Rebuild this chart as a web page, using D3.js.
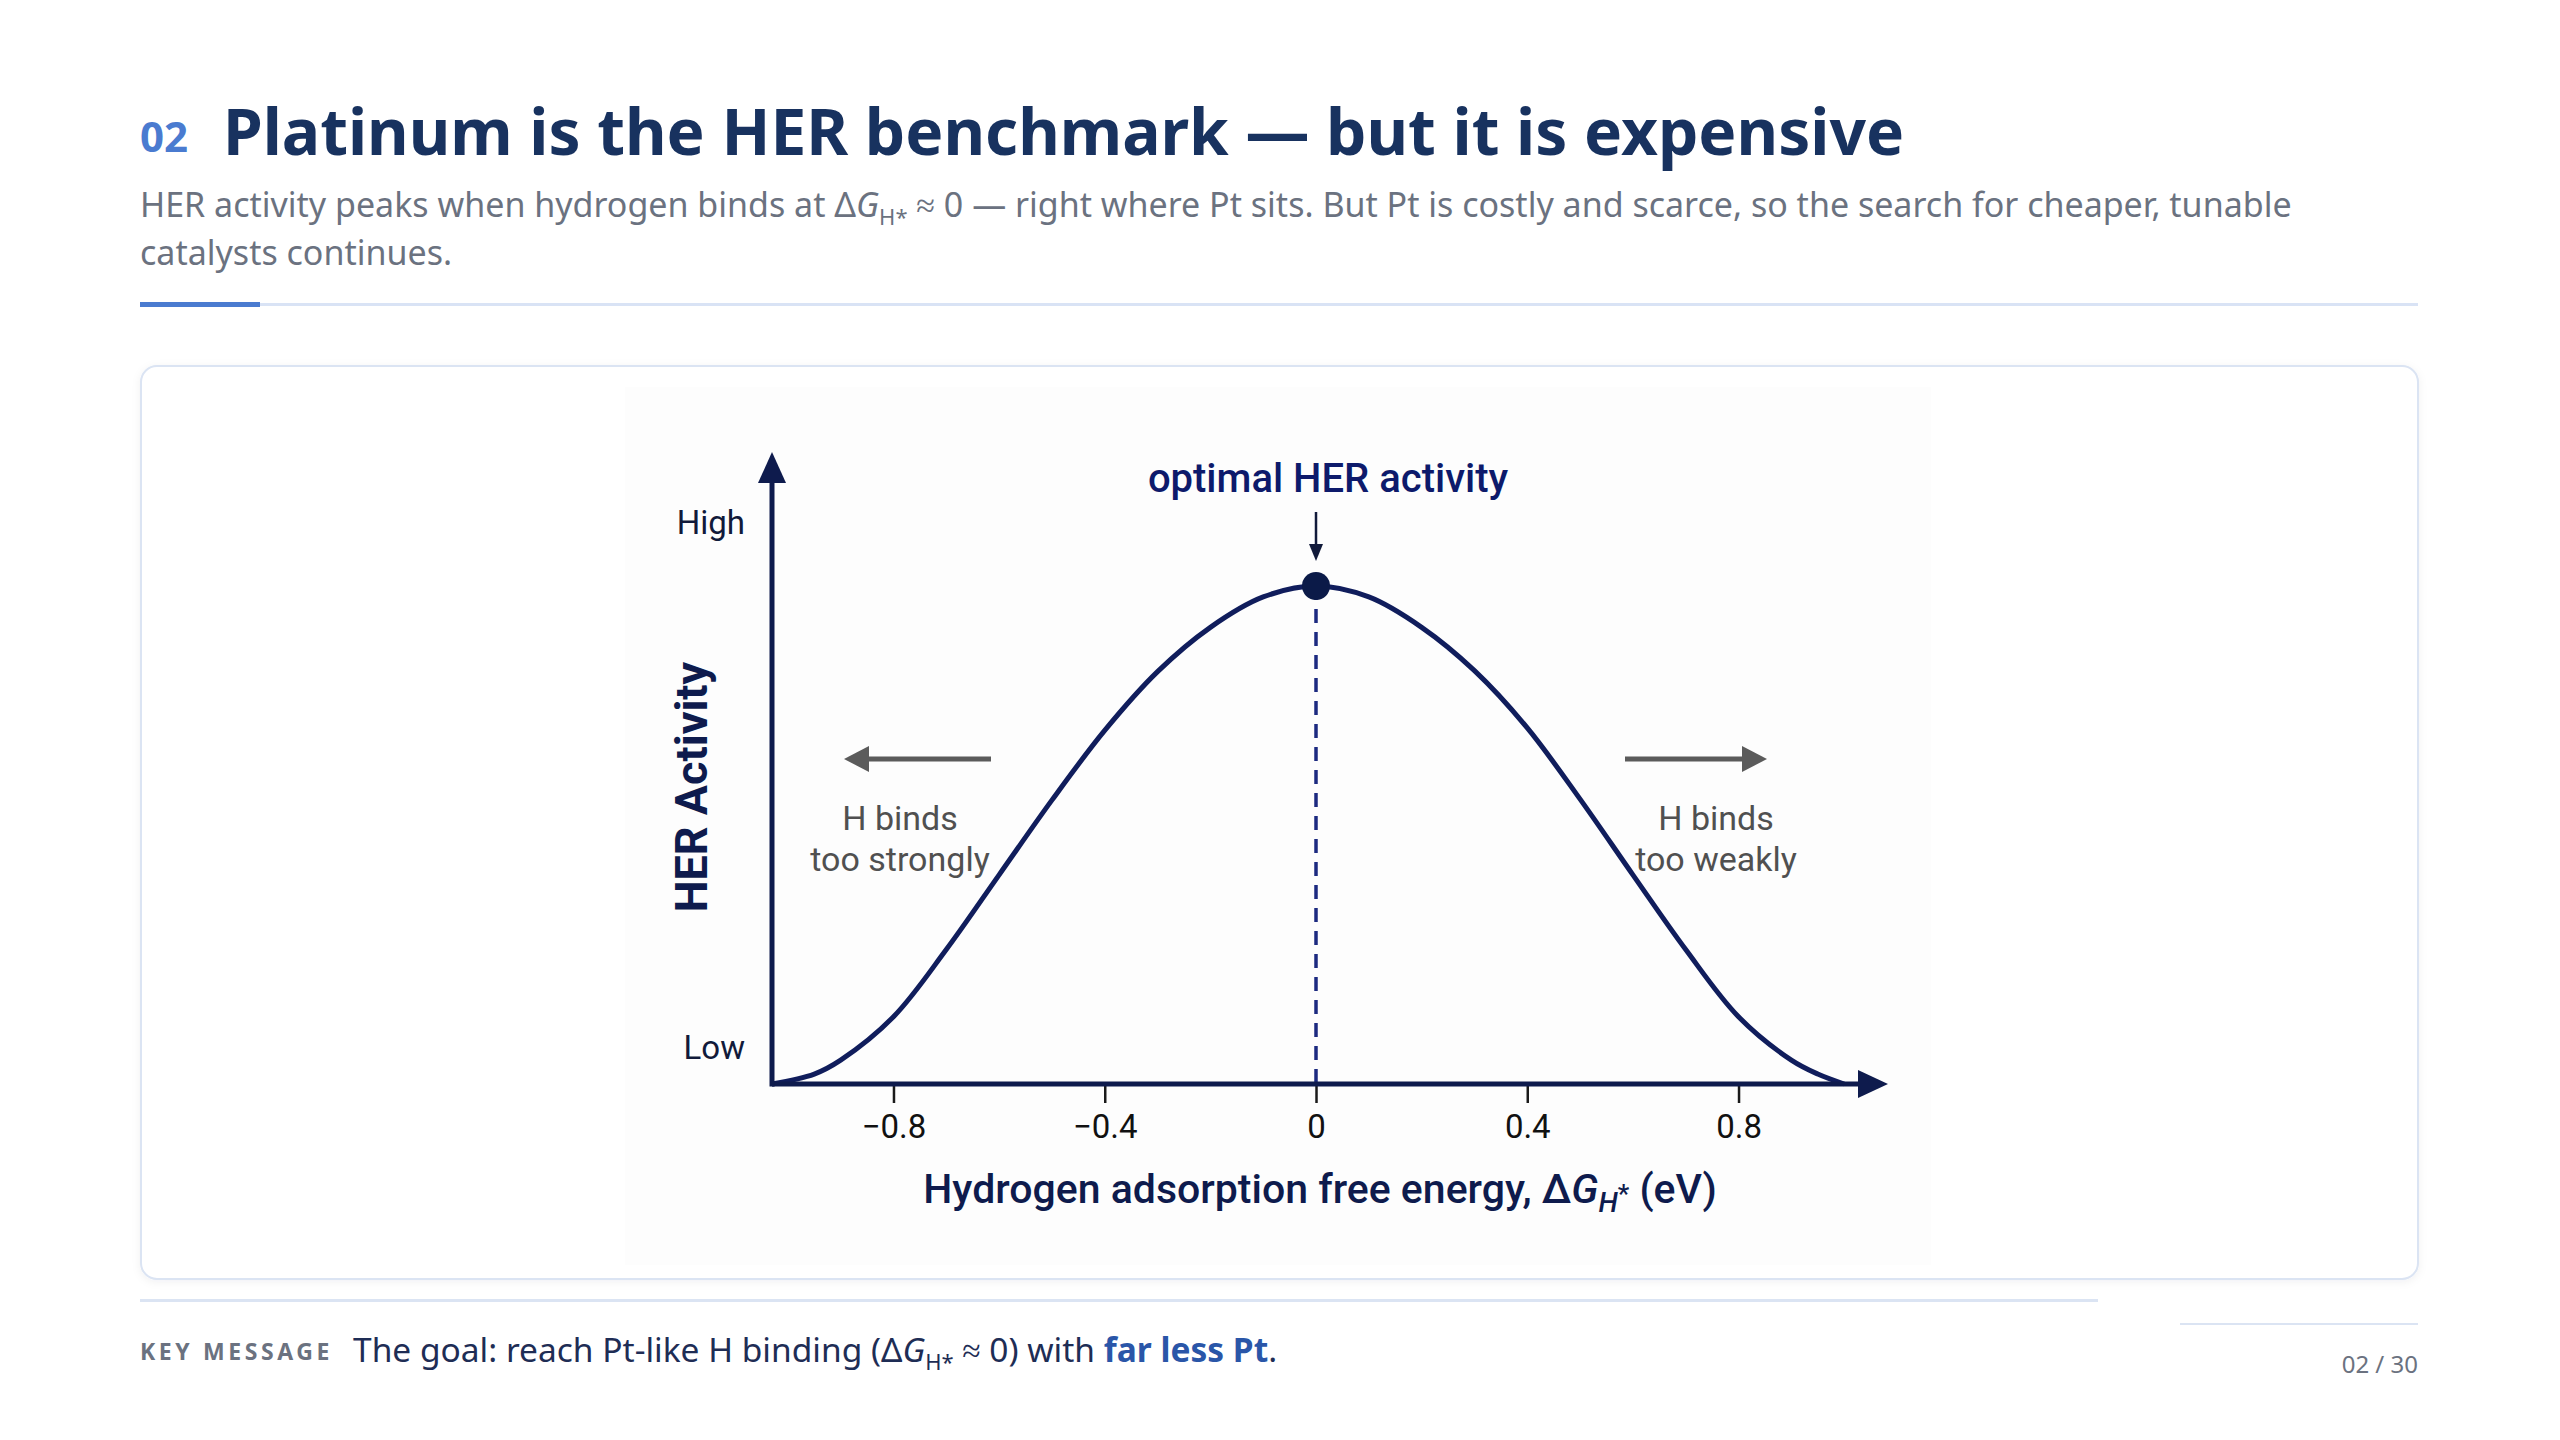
<!DOCTYPE html>
<html lang="en">
<head>
<meta charset="UTF-8">
<title>Platinum is the HER benchmark</title>
<script src="https://d3js.org/d3.v7.min.js"></script>
<style>
  html, body { margin: 0; padding: 0; background: #ffffff; }
  svg { display: block; }
</style>
</head>
<body>
<div id="chart"></div>
<script>
// volcano curve: binding energy (eV) vs relative activity
const energy   = [-1.03, -0.95, -0.9, -0.8, -0.7, -0.6, -0.5, -0.4, -0.3, -0.2, -0.1, 0,
                  0.1, 0.2, 0.3, 0.4, 0.5, 0.6, 0.7, 0.8, 0.9, 0.95, 1.0];
const activity = [0, 0.02, 0.048, 0.135, 0.27, 0.42, 0.57, 0.71, 0.828, 0.917, 0.978, 1,
                  0.978, 0.917, 0.83, 0.715, 0.572, 0.42, 0.27, 0.135, 0.048, 0.02, 0];
const xTicks = [-0.8, -0.4, 0, 0.4, 0.8];
const yLevelValues = [0.074, 1.128];
const yLevelLabels = ["Low", "High"];
const peakEnergy = 0;
const peakActivity = 1;

const width = 2560, height = 1440;
const navy = "#0e1b4d";

const svg = d3.select("#chart").append("svg")
    .attr("width", width)
    .attr("height", height);

const defs = svg.append("defs");
const shadow = defs.append("filter").attr("id", "shadow")
    .attr("x", "-5%").attr("y", "-5%").attr("width", "110%").attr("height", "110%");
shadow.append("feDropShadow").attr("dx", 0).attr("dy", 2).attr("stdDeviation", 4)
    .attr("flood-color", "#1a2a55").attr("flood-opacity", 0.06);

// ---- header ----
svg.append("text")
    .attr("x", 140).attr("y", 152)
    .attr("font-family", "Noto Sans").attr("font-weight", 700)
    .attr("font-size", 42).attr("fill", "#4a7bd0")
    .text("02");

svg.append("text")
    .attr("x", 223).attr("y", 155)
    .attr("font-family", "Noto Sans").attr("font-weight", 700)
    .attr("font-size", 64).attr("fill", "#18325f")
    .text("Platinum is the HER benchmark \u2014 but it is expensive");

const sub = svg.append("text")
    .attr("font-family", "Noto Sans").attr("font-size", 34)
    .attr("fill", "#6b7280");
const l1 = sub.append("tspan").attr("x", 140).attr("y", 217);
l1.append("tspan").text("HER activity peaks when hydrogen binds at \u0394");
l1.append("tspan").attr("font-style", "italic").text("G");
l1.append("tspan").attr("font-size", 22).attr("dy", 8).text("H*");
l1.append("tspan").attr("dy", -8).text(" \u2248 0 \u2014 right where Pt sits. But Pt is costly and scarce, so the search for cheaper, tunable");
sub.append("tspan").attr("x", 140).attr("y", 265).text("catalysts continues.");

svg.append("rect").attr("x", 140).attr("y", 303).attr("width", 2278).attr("height", 3).attr("fill", "#d9e3f5");
svg.append("rect").attr("x", 140).attr("y", 302).attr("width", 120).attr("height", 5).attr("fill", "#4a7bd0");

// ---- card ----
svg.append("rect")
    .attr("x", 141).attr("y", 366).attr("width", 2277).attr("height", 913)
    .attr("rx", 16).attr("fill", "#ffffff")
    .attr("stroke", "#dbe4f3").attr("stroke-width", 2)
    .attr("filter", "url(#shadow)");

// faint backdrop of the figure
svg.append("rect")
    .attr("x", 625).attr("y", 387).attr("width", 1306).attr("height", 878)
    .attr("fill", "#fdfdfd");

// ---- scales ----
const xScale = d3.scaleLinear().domain([-1.03, 1.083]).range([772, 1888]);
const yScale = d3.scaleLinear().domain([0, 1]).range([1084, 586]);
const x0 = xScale(-1.03), y0 = yScale(0);
const xEnd = xScale(1.083);
const yTop = 452;

// dashed guide at the optimum
svg.append("line")
    .attr("x1", xScale(peakEnergy)).attr("x2", xScale(peakEnergy))
    .attr("y1", yScale(peakActivity)).attr("y2", y0)
    .attr("stroke", "#1c2a80").attr("stroke-width", 3.5)
    .attr("stroke-dasharray", "14 9");

// x ticks
const xAxis = d3.axisBottom(xScale)
    .tickValues(xTicks)
    .tickSize(19)
    .tickPadding(12)
    .tickFormat(d => d === 0 ? "0" : d3.format(".1f")(d));
const gx = svg.append("g")
    .attr("transform", `translate(0, ${y0})`)
    .call(xAxis);
gx.select(".domain").remove();
gx.selectAll(".tick line").attr("stroke", "#1a1a1a").attr("stroke-width", 2.5);
gx.selectAll(".tick text")
    .attr("font-family", "Roboto").attr("font-size", 33).attr("fill", "#111111");

// curve
const pts = energy.map((e, i) => [e, activity[i]]);
const line = d3.line()
    .x(d => xScale(d[0]))
    .y(d => yScale(d[1]))
    .curve(d3.curveCatmullRom.alpha(0.5));
svg.append("path")
    .datum(pts)
    .attr("d", line)
    .attr("fill", "none")
    .attr("stroke", "#101d5c")
    .attr("stroke-width", 5)
    .attr("stroke-linejoin", "round");

// axes with arrowheads
svg.append("line")
    .attr("x1", x0).attr("y1", y0).attr("x2", xEnd - 26).attr("y2", y0)
    .attr("stroke", navy).attr("stroke-width", 5);
svg.append("path")
    .attr("d", `M${xEnd},${y0} L${xEnd - 30},${y0 - 14} L${xEnd - 30},${y0 + 14} Z`)
    .attr("fill", navy);
svg.append("line")
    .attr("x1", x0).attr("y1", y0 + 2.5).attr("x2", x0).attr("y2", yTop + 26)
    .attr("stroke", navy).attr("stroke-width", 5);
svg.append("path")
    .attr("d", `M${x0},${yTop} L${x0 - 14},${yTop + 31} L${x0 + 14},${yTop + 31} Z`)
    .attr("fill", navy);

// peak marker
svg.append("circle")
    .attr("cx", xScale(peakEnergy)).attr("cy", yScale(peakActivity))
    .attr("r", 14).attr("fill", "#0b1a48");

// y levels
svg.selectAll("text.level")
    .data(yLevelValues)
    .enter().append("text")
    .attr("class", "level")
    .attr("x", 745)
    .attr("y", d => yScale(d))
    .attr("dy", "0.35em")
    .attr("text-anchor", "end")
    .attr("font-family", "Roboto").attr("font-size", 33)
    .attr("fill", "#111a3a")
    .text((d, i) => yLevelLabels[i]);

// y title
svg.append("text")
    .attr("transform", `translate(707, 787) rotate(-90)`)
    .attr("text-anchor", "middle")
    .attr("font-family", "Roboto").attr("font-weight", 700)
    .attr("font-size", 45).attr("fill", "#0e1b4d")
    .text("HER Activity");

// optimum annotation
const px = xScale(peakEnergy);
svg.append("text")
    .attr("x", px + 12).attr("y", 492)
    .attr("text-anchor", "middle")
    .attr("font-family", "Roboto").attr("font-weight", 500)
    .attr("font-size", 40).attr("fill", "#0d1a6b")
    .text("optimal HER activity");
svg.append("line")
    .attr("x1", px).attr("x2", px).attr("y1", 512).attr("y2", 548)
    .attr("stroke", "#111a3a").attr("stroke-width", 2.5);
svg.append("path")
    .attr("d", `M${px},561 L${px - 7},544 L${px + 7},544 Z`)
    .attr("fill", "#111a3a");

// binding-strength hints
const grey = "#5b5b5b";
svg.append("line").attr("x1", 991).attr("x2", 864).attr("y1", 759).attr("y2", 759)
    .attr("stroke", grey).attr("stroke-width", 5);
svg.append("path").attr("d", "M844,759 L869,746 L869,772 Z").attr("fill", grey);
svg.append("line").attr("x1", 1625).attr("x2", 1747).attr("y1", 759).attr("y2", 759)
    .attr("stroke", grey).attr("stroke-width", 5);
svg.append("path").attr("d", "M1767,759 L1742,746 L1742,772 Z").attr("fill", grey);

const hint = (x, lines) => {
    const t = svg.append("text")
        .attr("text-anchor", "middle")
        .attr("font-family", "Roboto").attr("font-size", 34).attr("fill", "#505050");
    lines.forEach((s, i) => t.append("tspan").attr("x", x).attr("y", 830 + i * 41).text(s));
};
hint(900, ["H binds", "too strongly"]);
hint(1716, ["H binds", "too weakly"]);

// x title
const xt = svg.append("text")
    .attr("x", 1320).attr("y", 1203)
    .attr("text-anchor", "middle")
    .attr("font-family", "Roboto").attr("font-weight", 500)
    .attr("font-size", 41).attr("fill", "#0e1b4d");
xt.append("tspan").text("Hydrogen adsorption free energy, \u0394");
xt.append("tspan").attr("font-style", "italic").text("G");
xt.append("tspan").attr("font-style", "italic").attr("font-size", 28).attr("dy", 9).text("H");
xt.append("tspan").attr("font-size", 26).attr("dy", -9).text("*");
xt.append("tspan").attr("dy", 0).text(" (eV)");

// ---- footer ----
svg.append("rect").attr("x", 140).attr("y", 1299).attr("width", 1958).attr("height", 3).attr("fill", "#dbe4f3");
svg.append("rect").attr("x", 2180).attr("y", 1323).attr("width", 238).attr("height", 2).attr("fill", "#dbe4f3");

svg.append("text")
    .attr("x", 140).attr("y", 1360)
    .attr("font-family", "Noto Sans").attr("font-weight", 700)
    .attr("font-size", 23).attr("letter-spacing", 3.6).attr("fill", "#6b7280")
    .text("KEY MESSAGE");

const km = svg.append("text")
    .attr("x", 353).attr("y", 1362)
    .attr("font-family", "Noto Sans").attr("font-size", 33.5).attr("fill", "#1e2d55");
km.append("tspan").text("The goal: reach Pt-like H binding (\u0394");
km.append("tspan").attr("font-style", "italic").text("G");
km.append("tspan").attr("font-size", 22).attr("dy", 8).text("H*");
km.append("tspan").attr("dy", -8).text(" \u2248 0) with ");
km.append("tspan").attr("font-weight", 700).attr("fill", "#2a56a8").text("far less Pt");
km.append("tspan").text(".");

svg.append("text")
    .attr("x", 2418).attr("y", 1373)
    .attr("text-anchor", "end")
    .attr("font-family", "Noto Sans").attr("font-size", 24).attr("fill", "#6b7280")
    .text("02 / 30");
</script>
</body>
</html>
